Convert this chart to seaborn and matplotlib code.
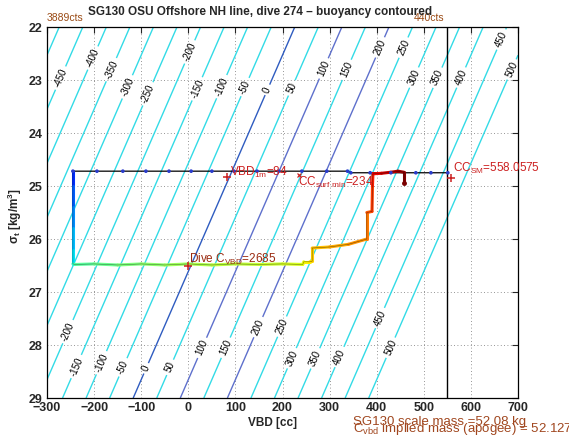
import numpy as np
import matplotlib
matplotlib.use("Agg")
import matplotlib.pyplot as plt
from matplotlib.collections import LineCollection
import seaborn as sns

# --- buoyancy model (neutral VBD at sigma=22 and its slope with density) ---
vbd_neutral_22 = 226.0     # cc
vbd_per_sigma = 49.0       # cc per kg/m^3
buoy_levels = list(range(-500, 501, 50))
blue_levels = [0, 100, 200]

# label positions (VBD, sigma) for contour labels
label_pos = [(-272, 22.96), (-204, 22.58), (-162, 22.81), (-124, 23.15), (-81, 23.28),
             (8, 22.49), (25, 23.19), (72, 23.13), (125, 23.15), (169, 23.19),
             (220, 23.15), (290, 22.79), (337, 22.81), (411, 22.40), (460, 22.40),
             (481, 22.96), (530, 22.96), (581, 22.96), (668, 22.25), (689, 22.81),
             (-255, 27.75), (-234, 28.42), (-183, 28.34), (-139, 28.42), (-92, 28.43),
             (-39, 28.42), (31, 28.06), (82, 28.06), (148, 27.66), (201, 27.66),
             (220, 28.25), (269, 28.25), (322, 28.23), (407, 27.49), (432, 28.06)]

# --- surface pumping line ---
surf_vbd = [-245, -194, -139, -90, -41, 6, 50, 97, 146, 192, 241, 294, 338,
            345, 386, 430, 483, 515, 551]
surf_sigma = [24.72, 24.72, 24.72, 24.72, 24.72, 24.72, 24.72, 24.72, 24.72, 24.72,
              24.72, 24.72, 24.72, 24.75, 24.75, 24.75, 24.75, 24.75, 24.75]

# --- dive path (VBD, sigma_t, color along dive) ---
path_vbd = [-245, -245, -245, -245, -245, -245, -240, -200, -150, -100, -50, 0,
            50, 100, 150, 200, 243, 245, 258, 263, 263, 300, 340, 379, 379, 390,
            391, 392, 410, 430, 445, 458, 458]
path_sigma = [24.72, 25.0, 25.4, 25.8, 26.2, 26.47, 26.48, 26.47, 26.49, 26.47,
              26.49, 26.47, 26.49, 26.47, 26.48, 26.47, 26.48, 26.43, 26.43, 26.42,
              26.17, 26.15, 26.10, 26.00, 25.50, 25.48, 25.00, 24.77, 24.76, 24.74,
              24.72, 24.74, 24.95]
path_c = [0.15, 0.19, 0.24, 0.29, 0.33, 0.37, 0.45, 0.47, 0.49, 0.51, 0.53, 0.55,
          0.57, 0.58, 0.59, 0.60, 0.62, 0.64, 0.66, 0.68, 0.70, 0.72, 0.74, 0.76,
          0.80, 0.83, 0.86, 0.89, 0.92, 0.94, 0.96, 0.98, 1.0]

cc_sm = 558.0575
vbd_1m = 84
cc_surf_min = 234
dive_cvbd = 2685
scale_mass = 52.08
implied_mass = 52.127
cts_left, cts_right = 3889, 440
vbd_limit = 550

sns.set_style("white")
plt.rcParams['font.family'] = ['Liberation Sans', 'DejaVu Sans']
plt.rcParams['mathtext.default'] = 'regular'

fig = plt.figure(figsize=(5.69, 4.42), dpi=100)
ax = fig.add_axes([0.0826, 0.0995, 0.8278, 0.8394])
ax.set_xlim(-300, 700)
ax.set_ylim(29, 22)

# buoyancy contours
vv, ss = np.meshgrid(np.linspace(-300, 700, 201), np.linspace(22, 29, 141))
buoy = vv - (vbd_neutral_22 - vbd_per_sigma * (ss - 22))
cols = []
for lv in buoy_levels:
    if lv == 0:
        cols.append('#2f5cc0')
    elif lv in blue_levels:
        cols.append('#5e70cc')
    else:
        cols.append('#33dbe6')
cs = ax.contour(vv, ss, buoy, levels=buoy_levels, colors=cols, linewidths=1.0)
labels = ax.clabel(cs, manual=label_pos, fontsize=7, colors='k', inline=True,
                   fmt='%d', inline_spacing=3)
# the y axis is flipped, so turn the labels to run along the lines on screen
for t in labels:
    t.set_rotation(66.5)

# grid and ticks
ax.set_xticks(range(-300, 701, 100))
ax.set_yticks(range(22, 30))
ax.grid(True, ls=(0, (1, 3)), color='0.45', lw=0.6)
ax.set_axisbelow(True)
for sp in ax.spines.values():
    sp.set_color('k')
    sp.set_linewidth(0.9)
ax.tick_params(direction='in', top=True, right=True, length=4, width=0.8,
               labelsize=9, pad=3)
for t in ax.get_xticklabels() + ax.get_yticklabels():
    t.set_fontweight('bold')

# surface line with sample dots
ax.plot(surf_vbd, surf_sigma, color='k', lw=0.9, zorder=4)
sns.scatterplot(x=surf_vbd, y=surf_sigma, ax=ax, color='#2a3ccc', s=7,
                edgecolor='none', zorder=7)

# dive path colored along the dive
pts = np.column_stack([path_vbd, path_sigma])
segs = np.stack([pts[:-1], pts[1:]], axis=1)
seg_c = (np.array(path_c[:-1]) + np.array(path_c[1:])) / 2
lc = LineCollection(segs, cmap='jet', linewidths=2.2, capstyle='round', zorder=5)
lc.set_array(seg_c)
lc.set_clim(0, 1)
ax.add_collection(lc)
ax.plot(path_vbd, path_sigma, color='k', lw=0.4, alpha=0.5, zorder=6)
ax.plot([458], [24.95], 'o', color='#7a0000', ms=2.5, zorder=7)

# vertical limit line
ax.axvline(vbd_limit, color='k', lw=1.0, zorder=6)

red = '#cc2020'
ax.plot([82], [24.83], '+', color=red, ms=6, mew=1.1, zorder=8)
ax.text(88, 24.75, 'VBD$_{1m}$=%d' % vbd_1m, color=red, fontsize=8.5,
        va='center', ha='left', zorder=9)
ax.plot([cc_surf_min], [24.79], 'x', color=red, ms=3.5, mew=0.9, zorder=8)
ax.text(cc_surf_min - 1, 24.93, 'CC$_{surf\\ min}$=%d' % cc_surf_min, color=red,
        fontsize=8.5, va='center', ha='left', zorder=9)
ax.plot([cc_sm], [24.85], '+', color=red, ms=6, mew=1.1, zorder=8)
ax.text(cc_sm + 4, 24.66, 'CC$_{SM}$=%.4f' % cc_sm, color=red, fontsize=8.5,
        va='center', ha='left', zorder=9)
ax.plot([0], [26.5], '+', color=red, ms=6, mew=1.1, zorder=8)
ax.text(2, 26.38, 'Dive C$_{VBD}$=%d' % dive_cvbd, color='#9a2a10', fontsize=8.5,
        va='center', ha='left', zorder=9)

brown = '#9a4a14'
ax.text(-300, 21.93, '%dcts' % cts_left, color=brown, fontsize=7.5,
        ha='left', va='bottom', clip_on=False)
ax.text(vbd_limit - 6, 21.93, '%dcts' % cts_right, color=brown, fontsize=7.5,
        ha='right', va='bottom', clip_on=False)

fig.text(353 / 569, 1 - 422 / 442, 'SG130 scale mass =%.2f kg' % scale_mass,
         color='#a0461e', fontsize=9.5, ha='left', va='center')
fig.text(353 / 569, 1 - 429 / 442,
         'C$_{vbd}$ implied mass (apogee) = %.3f' % implied_mass,
         color='#a0461e', fontsize=9.5, ha='left', va='center')

fig.text(260 / 569, 1 - 12 / 442,
         'SG130 OSU Offshore NH line, dive 274 \u2013 buoyancy contoured',
         fontsize=8.5, fontweight='bold', ha='center', va='center')
fig.text(272 / 569, 1 - 423 / 442, 'VBD [cc]', fontsize=8.5, fontweight='bold',
         ha='center', va='center')
fig.text(15 / 569, 1 - 216 / 442, '$\\sigma_t$ [kg/m$^3$]', fontsize=8.5,
         fontweight='bold', ha='center', va='center', rotation=90)

fig.savefig('out.png', dpi=100)
